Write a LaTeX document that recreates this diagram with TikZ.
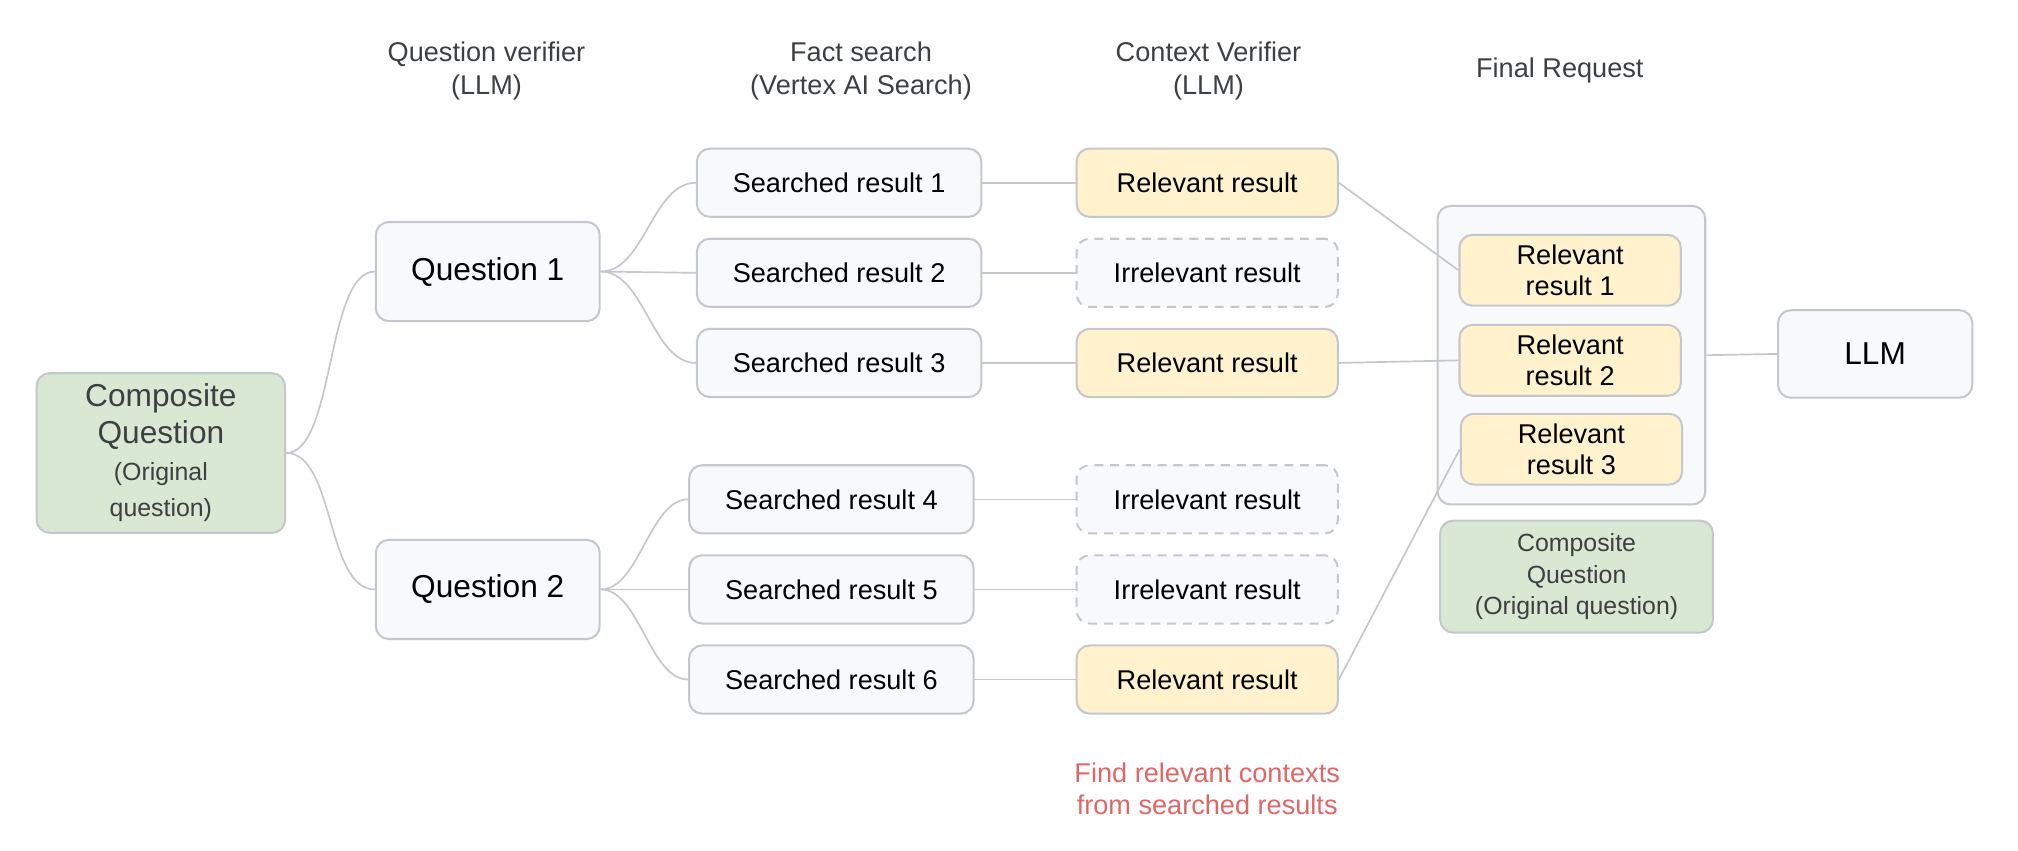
\documentclass[tikz,border=0pt]{standalone}
\usepackage{fontspec}
\setmainfont{Liberation Sans}
\usetikzlibrary{positioning}

\definecolor{boxgray}{HTML}{F8F9FA}
\definecolor{linegray}{HTML}{C4C7CC}
\definecolor{relyellow}{HTML}{FFF2CC}
\definecolor{compgreen}{HTML}{D9E8D3}
\definecolor{textgray}{HTML}{3C4043}
\definecolor{notered}{HTML}{E06666}

\begin{document}
\begin{tikzpicture}[x=0.02cm, y=-0.02cm,
        box/.style={draw=linegray, line width=0.9pt, rounded corners=0.2cm,
            fill=boxgray, align=center, inner sep=0pt,
            font=\fontsize{12}{14}\selectfont},
        resbox/.style={box, minimum width=4.42cm, minimum height=1.06cm},
        ctxbox/.style={box, minimum width=4.06cm, minimum height=1.06cm},
        relbox/.style={ctxbox, fill=relyellow},
        irrbox/.style={ctxbox, dashed, dash pattern=on 4pt off 3pt},
        qbox/.style={box, minimum width=3.48cm, minimum height=1.54cm,
            font=\fontsize{14}{16}\selectfont},
        hdr/.style={align=center, text=textgray, font=\fontsize{12}{14.7}\selectfont},
        conn/.style={draw=linegray, line width=0.75pt}]
    \useasboundingbox (0,0) rectangle (1568,660.5);

    % column titles
    \node [hdr] (hq) at (378,55) {Question verifier\\(LLM)};
    \node [hdr] (hf) at (669,55) {Fact search\\(Vertex AI Search)};
    \node [hdr] (hc) at (939,55) {Context Verifier\\(LLM)};
    \node [hdr] (hr) at (1212,55) {Final Request};

    \node [box, fill=compgreen, text=textgray, minimum width=3.86cm, minimum height=2.48cm,
        font=\fontsize{14}{16.2}\selectfont] (comp) at (125,352)
        {Composite\\Question\\{\fontsize{11}{13.5}\selectfont (Original}\\
        {\fontsize{11}{13.5}\selectfont question)}};

    \node [qbox] (q1) at (379,211) {Question 1};
    \node [qbox] (q2) at (379,458) {Question 2};

    \node [resbox] (s1) at (652,142) {Searched result 1};
    \node [resbox] (s2) at (652,212) {Searched result 2};
    \node [resbox] (s3) at (652,282) {Searched result 3};
    \node [resbox] (s4) at (646,388) {Searched result 4};
    \node [resbox] (s5) at (646,458) {Searched result 5};
    \node [resbox] (s6) at (646,528) {Searched result 6};

    \node [relbox] (c1) at (938,142) {Relevant result};
    \node [irrbox] (c2) at (938,212) {Irrelevant result};
    \node [relbox] (c3) at (938,282) {Relevant result};
    \node [irrbox] (c4) at (938,388) {Irrelevant result};
    \node [irrbox] (c5) at (938,458) {Irrelevant result};
    \node [relbox] (c6) at (938,528) {Relevant result};

    \node [text=notered, align=center, font=\fontsize{12}{14.5}\selectfont,
        below=0.62cm of c6] (note) {Find relevant contexts\\from searched results};

    % final request
    \node [box, minimum width=4.16cm, minimum height=4.64cm] (req) at (1221,276) {};
    \node [relbox, minimum width=3.44cm, minimum height=1.1cm,
        font=\fontsize{12}{13.6}\selectfont] (r1) at (1220,210) {Relevant\\result 1};
    \node [relbox, minimum width=3.44cm, minimum height=1.1cm,
        font=\fontsize{12}{13.6}\selectfont] (r2) at (1220,280) {Relevant\\result 2};
    \node [relbox, minimum width=3.44cm, minimum height=1.1cm,
        font=\fontsize{12}{13.6}\selectfont] (r3) at (1221,349) {Relevant\\result 3};
    \node [box, fill=compgreen, text=textgray, minimum width=4.24cm, minimum height=1.74cm,
        font=\fontsize{11}{13.9}\selectfont] (comp2) at (1225,448)
        {Composite\\Question\\(Original question)};

    \node [qbox, minimum width=3.02cm, minimum height=1.36cm] (llm) at (1457,275) {LLM};

    \draw [conn] (comp.east) .. controls +(38,0) and +(-38,0) .. (q1.west);
    \draw [conn] (comp.east) .. controls +(38,0) and +(-38,0) .. (q2.west);

    \draw [conn] (q1.east) .. controls +(34,0) and +(-34,0) .. (s1.west);
    \draw [conn] (q1.east) -- (s2.west);
    \draw [conn] (q1.east) .. controls +(34,0) and +(-34,0) .. (s3.west);
    \draw [conn] (q2.east) .. controls +(30,0) and +(-30,0) .. (s4.west);
    \draw [conn] (q2.east) -- (s5.west);
    \draw [conn] (q2.east) .. controls +(30,0) and +(-30,0) .. (s6.west);

    \foreach \i in {1,...,6}
        \draw [conn] (s\i.east) -- (c\i.west);

    \draw [conn] (c1.east) -- (r1.west);
    \draw [conn] (c3.east) -- (r2.west);
    \draw [conn] (c6.east) -- (r3.west);
    \draw [conn] (req.east) -- (llm.west);
\end{tikzpicture}
\end{document}
